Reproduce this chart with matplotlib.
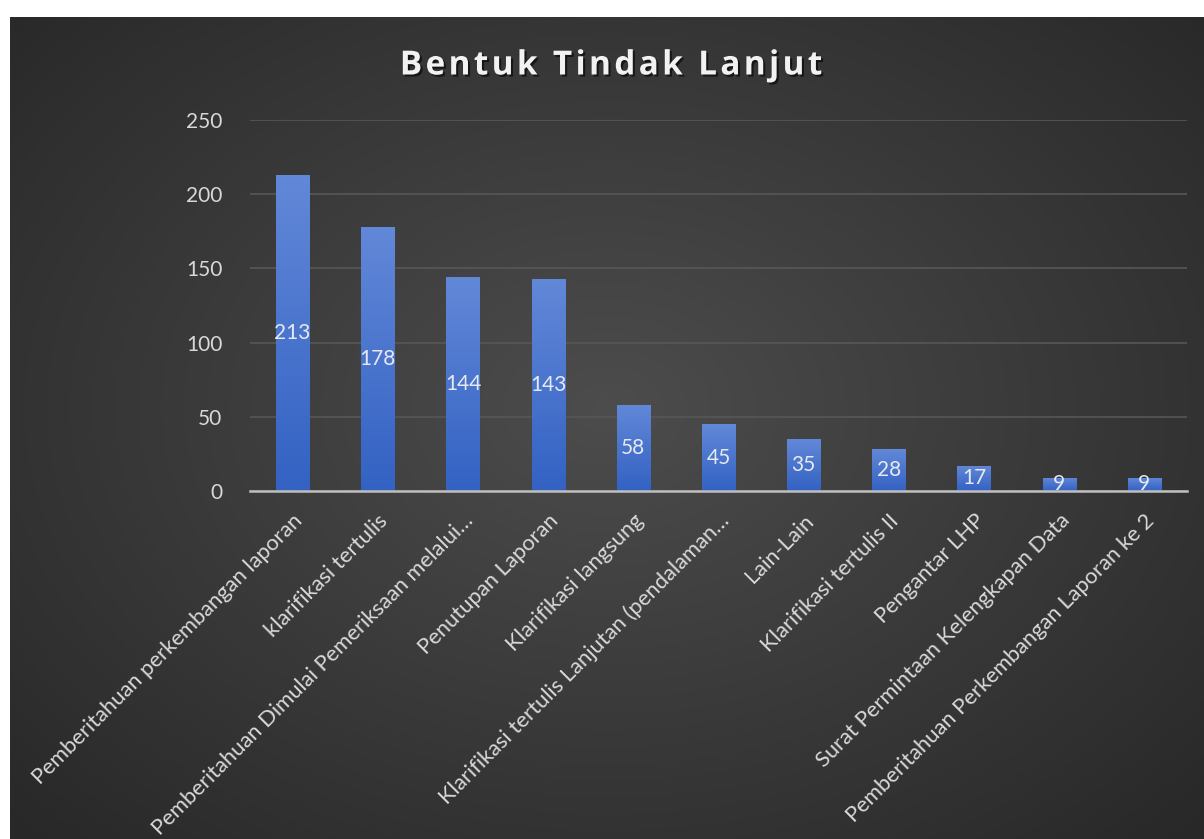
import numpy as np
import matplotlib
matplotlib.use('Agg')
import matplotlib.pyplot as plt
import matplotlib.patheffects as pe

categories = [
    'Pemberitahuan perkembangan laporan',
    'klarifikasi tertulis',
    'Pemberitahuan Dimulai Pemeriksaan melalui…',
    'Penutupan Laporan',
    'Klarifikasi langsung',
    'Klarifikasi tertulis Lanjutan (pendalaman…',
    'Lain-Lain',
    'Klarifikasi tertulis II',
    'Pengantar LHP',
    'Surat Permintaan Kelengkapan Data',
    'Pemberitahuan Perkembangan Laporan ke 2',
]
values = [213, 178, 144, 143, 58, 45, 35, 28, 17, 9, 9]
yticks = [0, 50, 100, 150, 200, 250]
title = 'Bentuk Tindak Lanjut'

W, H = 1204, 839
fig = plt.figure(figsize=(W / 100, H / 100), dpi=100, facecolor='white')

# radial dark background of the chart area
bg = fig.add_axes([10 / W, 0, 1 - 10 / W, (H - 17) / H], zorder=0)
yy, xx = np.mgrid[-1:1:400j, -1:1:600j]
r = np.sqrt((xx * 0.95) ** 2 + ((yy + 0.05) * 0.9) ** 2)
shade = 0.30 - 0.14 * np.clip(r, 0, 1.3) / 1.3
bg.imshow(np.dstack([shade, shade, shade]), aspect='auto', extent=[0, 1, 0, 1])
bg.set_axis_off()

ax = fig.add_axes([250 / W, 1 - 491 / H, (1187 - 250) / W, (491 - 120) / H], zorder=1)
ax.patch.set_alpha(0)

x = np.arange(len(values))
bars = ax.bar(x, values, width=0.39, color='none', edgecolor='none', zorder=3)
grad = np.linspace(0, 1, 256).reshape(-1, 1)
top = np.array([0x62, 0x88, 0xd8]) / 255
bot = np.array([0x33, 0x62, 0xc3]) / 255
img = top * (1 - grad[..., None]) + bot * grad[..., None]
img = img.reshape(256, 1, 3)
for b in bars:
    x0 = b.get_x()
    im = ax.imshow(img, extent=[x0, x0 + b.get_width(), 0, b.get_height()],
                   aspect='auto', zorder=3)
    im.set_clip_path(b)

for xi, v in zip(x, values):
    ax.text(xi, v / 2, str(v), ha='center', va='center', color='#e6e9f0',
            fontsize=15, family='Lato', zorder=4)

ax.set_xlim(-0.5, len(values) - 0.5)
ax.set_ylim(0, 250)
ax.set_yticks(yticks)
ax.set_yticklabels([str(t) for t in yticks], color='#d9d9d9', fontsize=15, family='Lato')
ax.yaxis.grid(True, color='#575757', lw=1.2, zorder=0)
ax.set_axisbelow(True)
ax.tick_params(axis='y', length=0, pad=20)
ax.tick_params(axis='x', length=0, pad=14)
ax.set_xticks(x)
ax.set_xticklabels(categories, rotation=45, ha='right', va='top', rotation_mode='anchor',
                   color='#d9d9d9', fontsize=15.8, family='Lato')
for s in ['top', 'right', 'left']:
    ax.spines[s].set_visible(False)
ax.spines['bottom'].set_color('#bfbfbf')
ax.spines['bottom'].set_linewidth(1.8)
ax.spines['bottom'].set_zorder(5)

spaced = '\u200a'.join(title)
fig.text(0.508, 1 - 66 / H, spaced, ha='center', va='center', color='#f2f2f2',
         fontsize=24, fontweight='bold', family='Open Sans',
         path_effects=[pe.withSimplePatchShadow(offset=(1.5, -1.5), shadow_rgbFace='black', alpha=0.6)])

fig.savefig('out.png', dpi=100, facecolor='white')
